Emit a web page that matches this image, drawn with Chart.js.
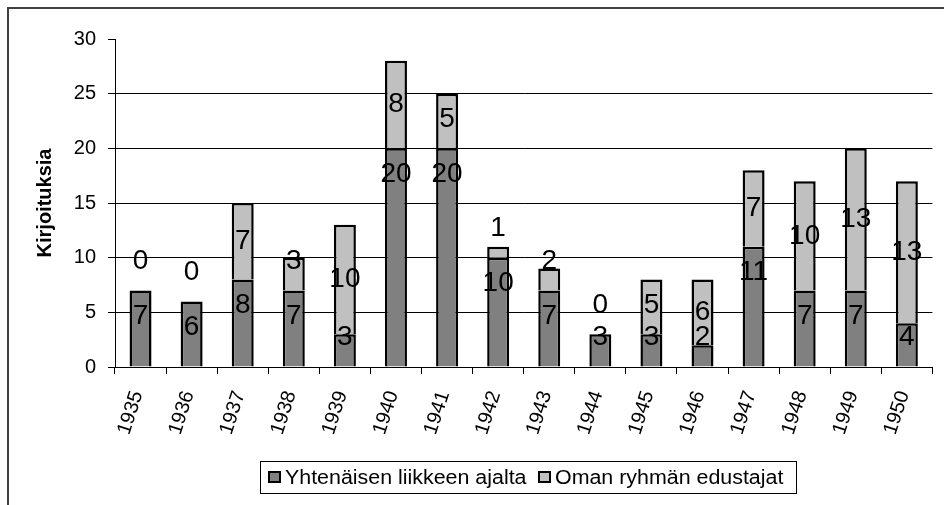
<!DOCTYPE html>
<html>
<head>
<meta charset="utf-8">
<style>
  html, body { margin: 0; padding: 0; background: #fff; }
  #wrap { width: 944px; height: 505px; }
</style>
<script src="https://cdn.jsdelivr.net/npm/chart.js@4.4.0/dist/chart.umd.min.js"></script>
</head>
<body>
<div id="wrap"><canvas id="myChart" width="944" height="505"></canvas></div>
<script>
// Datos del gráfico
const years = ["1935", "1936", "1937", "1938", "1939", "1940", "1941", "1942",
               "1943", "1944", "1945", "1946", "1947", "1948", "1949", "1950"];
const yhtenainen = [7, 6, 8, 7, 3, 20, 20, 10, 7, 3, 3, 2, 11, 7, 7, 4];
const omanRyhman = [0, 0, 7, 3, 10, 8, 5, 1, 2, 0, 5, 6, 7, 10, 13, 13];
const seriesNames = ["Yhtenäisen liikkeen ajalta", "Oman ryhmän edustajat"];
const yTicks = [0, 5, 10, 15, 20, 25, 30];

const FONT = '"Liberation Sans", Arial, sans-serif';

// Marco exterior (solo borde superior e izquierdo visibles)
const framePlugin = {
  id: "frame",
  afterDraw(chart) {
    const ctx = chart.ctx;
    ctx.save();
    ctx.strokeStyle = "#404040";
    ctx.lineWidth = 2;
    ctx.beginPath();
    ctx.moveTo(8, 505);
    ctx.lineTo(8, 8);
    ctx.lineTo(944, 8);
    ctx.stroke();
    ctx.restore();
  }
};

// Etiquetas de valores en cada segmento
const labelPlugin = {
  id: "segmentLabels",
  afterDatasetsDraw(chart) {
    const ctx = chart.ctx;
    ctx.save();
    ctx.font = "28px " + FONT;
    ctx.fillStyle = "#000";
    ctx.textAlign = "center";
    ctx.textBaseline = "middle";
    chart.data.datasets.forEach(function(ds, i) {
      const meta = chart.getDatasetMeta(i);
      meta.data.forEach(function(bar, j) {
        const top = bar.y, base = bar.base;
        let y = i === 0 ? top + 26 : (top + base) / 2;
        y = Math.min(y, base - 29);
        ctx.fillText(String(ds.data[j]), bar.x, y);
      });
    });
    ctx.restore();
  }
};

// Leyenda con recuadro
const legendPlugin = {
  id: "boxLegend",
  afterDraw(chart) {
    const ctx = chart.ctx;
    const items = [
      { x: 268, color: "#808080" },
      { x: 538, color: "#c0c0c0" }
    ];
    ctx.save();
    ctx.strokeStyle = "#000";
    ctx.lineWidth = 1;
    ctx.strokeRect(260.5, 461.5, 536, 32);
    ctx.font = "20px " + FONT;
    ctx.fillStyle = "#000";
    ctx.textBaseline = "alphabetic";
    items.forEach(function(it, i) {
      ctx.fillStyle = it.color;
      ctx.fillRect(it.x, 471, 13, 12);
      ctx.lineWidth = 2;
      ctx.strokeStyle = "#000";
      ctx.strokeRect(it.x + 1, 472, 11, 10);
      ctx.fillStyle = "#000";
      ctx.save();
      ctx.translate(it.x + 17, 484);
      ctx.scale(1.07, 1);
      ctx.fillText(seriesNames[i], 0, 0);
      ctx.restore();
    });
    ctx.restore();
  }
};

const data = {
  labels: years,
  datasets: [
    {
      label: seriesNames[0],
      data: yhtenainen,
      backgroundColor: "#808080",
      borderColor: "#000",
      borderWidth: 2.5,
      borderSkipped: "bottom"
    },
    {
      label: seriesNames[1],
      data: omanRyhman,
      backgroundColor: "#c0c0c0",
      borderColor: "#000",
      borderWidth: 2.5,
      borderSkipped: "bottom"
    }
  ]
};

const config = {
  type: "bar",
  data: data,
  options: {
    responsive: false,
    animation: false,
    layout: { padding: { left: 0, top: 39, right: 10, bottom: 53 } },
    datasets: {
      bar: { categoryPercentage: 1, barPercentage: 0.43 }
    },
    plugins: {
      legend: { display: false },
      tooltip: { enabled: false }
    },
    scales: {
      x: {
        stacked: true,
        grid: {
          drawOnChartArea: false,
          drawTicks: true,
          tickLength: 7,
          tickColor: "#000"
        },
        border: { color: "#000", width: 1 },
        ticks: {
          color: "#000",
          font: { family: FONT, size: 20 },
          minRotation: 72,
          maxRotation: 72,
          autoSkip: false,
          padding: 14,
          labelOffset: -3
        },
        afterFit(scale) { scale.height = 85; }
      },
      y: {
        stacked: true,
        min: 0,
        max: 30,
        afterBuildTicks(scale) {
          scale.ticks = yTicks.map(function(v) { return { value: v }; });
        },
        grid: {
          color: function(ctx) {
            return (ctx.tick && (ctx.tick.value === 30 || ctx.tick.value === 0)) ? "rgba(0,0,0,0)" : "#000";
          },
          lineWidth: 1,
          tickLength: 7,
          tickColor: "#000"
        },
        border: { color: "#000", width: 1 },
        ticks: {
          color: "#000",
          font: { family: FONT, size: 20 },
          padding: 12
        },
        title: {
          display: true,
          text: "Kirjoituksia",
          color: "#000",
          font: { family: FONT, size: 20, weight: "bold" },
          padding: { top: 33, bottom: 0 }
        },
        afterFit(scale) { scale.width = 115; }
      }
    }
  },
  plugins: [labelPlugin, legendPlugin, framePlugin]
};

var myChart = new Chart(document.getElementById("myChart"), config);
</script>
</body>
</html>
